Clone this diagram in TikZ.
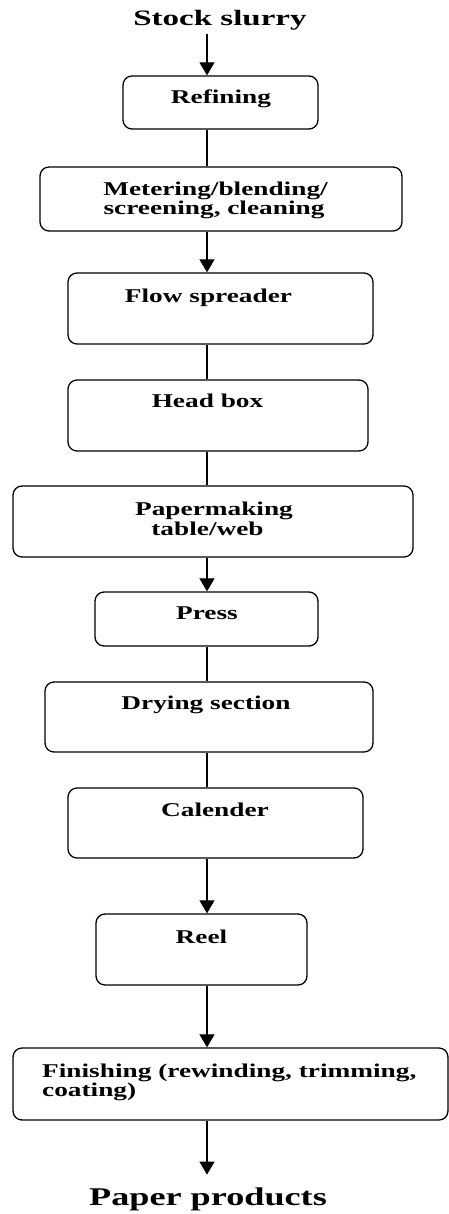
\documentclass[tikz,border=0pt]{standalone}
\usepackage{fontspec}
\setmainfont{Liberation Serif}
\newfontfamily\boxfont{Liberation Serif}[FakeStretch=1.4]
\newfontfamily\ttlfont{Liberation Serif}[FakeStretch=1.5]
\newfontfamily\endfont{Liberation Serif}[FakeStretch=1.42]
\usetikzlibrary{arrows.meta}
\tikzset{
  box/.style={draw, line width=1.3pt, rounded corners=9pt, inner sep=0pt},
  txt/.style={font=\boxfont\bfseries\fontsize{19.5}{23}\selectfont, inner sep=0pt, anchor=base},
  ttl/.style={font=\ttlfont\bfseries\fontsize{22}{26}\selectfont, inner sep=3pt, anchor=base},
  endtxt/.style={font=\endfont\bfseries\fontsize{25.5}{30}\selectfont, inner sep=3pt, anchor=base},
  link/.style={line width=1.1pt},
  arr/.style={link, -{Triangle[width=15pt,length=13pt]}}
}
\begin{document}
\begin{tikzpicture}[x=1pt,y=-1pt]
\useasboundingbox (0,0) rectangle (449,1214);
\coordinate (axis) at (207,0);
% title
\node[ttl] (stock) at (220,26) {Stock slurry};
% boxes
\node[box, minimum width=195pt, minimum height=53pt] (refining) at (220.5,102.5) {};
\node[txt] (refiningT) at (221,104) {Refining};
\node[box, minimum width=362pt, minimum height=64pt] (metering) at (221,199) {};
\node[txt] (meteringA) at (215.5,196) {Metering/blending/};
\node[txt] (meteringB) at (214,215) {screening, cleaning};
\node[box, minimum width=305pt, minimum height=71pt] (flow) at (220.5,308.5) {};
\node[txt] (flowT) at (208.5,302) {Flow spreader};
\node[box, minimum width=300pt, minimum height=71pt] (head) at (218,415.5) {};
\node[txt] (headT) at (207.5,407) {Head box};
\node[box, minimum width=400pt, minimum height=71pt] (paper) at (213,521.5) {};
\node[txt] (paperA) at (214,515) {Papermaking};
\node[txt] (paperB) at (207.5,535) {table/web};
\node[box, minimum width=223pt, minimum height=54pt] (press) at (206.5,619) {};
\node[txt] (pressT) at (207,619) {Press};
\node[box, minimum width=328pt, minimum height=70pt] (drying) at (209,717) {};
\node[txt] (dryingT) at (206,709) {Drying section};
\node[box, minimum width=295pt, minimum height=70pt] (calender) at (215.5,823) {};
\node[txt] (calenderT) at (215,816) {Calender};
\node[box, minimum width=211pt, minimum height=71pt] (reel) at (201.5,949.5) {};
\node[txt] (reelT) at (201.5,943) {Reel};
\node[box, minimum width=435pt, minimum height=72pt] (finishing) at (230.5,1084) {};
\node[txt, anchor=base west] (finishingA) at (42,1077) {Finishing (rewinding, trimming,};
\node[txt, anchor=base west] (finishingB) at (42,1096) {coating)};
% end text
\node[endtxt] (products) at (208,1205) {Paper products};
% connectors
\draw[arr] (stock.south -| axis) -- (refining.north -| axis);
\draw[link] (refining.south -| axis) -- (metering.north -| axis);
\draw[arr] (metering.south -| axis) -- (flow.north -| axis);
\draw[link] (flow.south -| axis) -- (head.north -| axis);
\draw[link] (head.south -| axis) -- (paper.north -| axis);
\draw[arr] (paper.south -| axis) -- (press.north -| axis);
\draw[link] (press.south -| axis) -- (drying.north -| axis);
\draw[link] (drying.south -| axis) -- (calender.north -| axis);
\draw[arr] (calender.south -| axis) -- (reel.north -| axis);
\draw[arr] (reel.south -| axis) -- (finishing.north -| axis);
\draw[arr, shorten >=9.5pt] (finishing.south -| axis) -- (products.north -| axis);
\end{tikzpicture}
\end{document}
